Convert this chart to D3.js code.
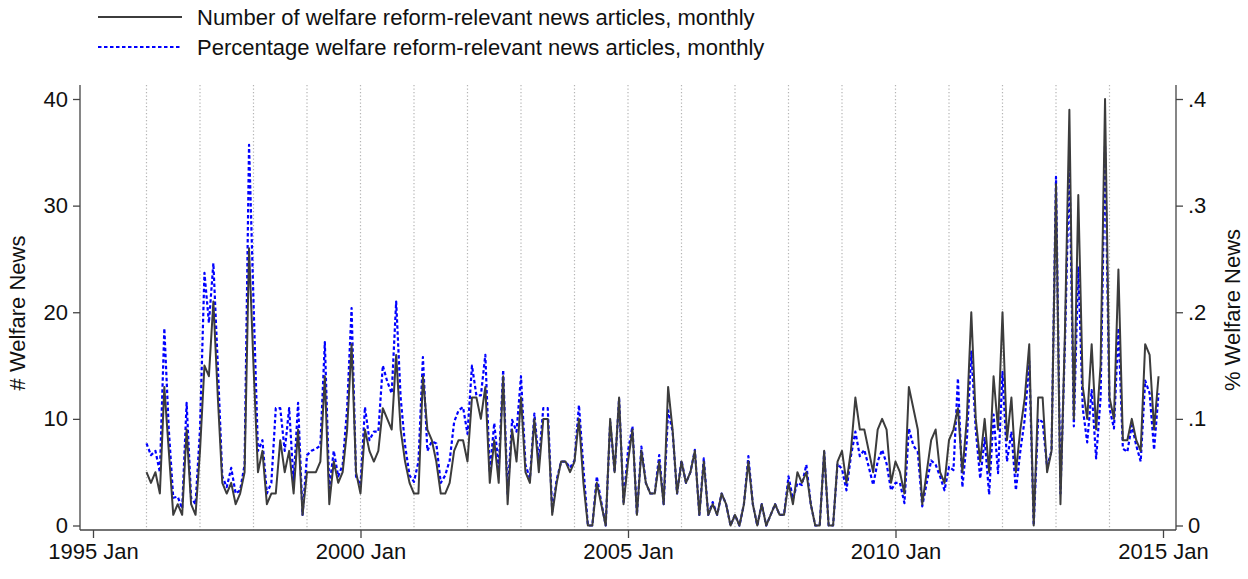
<!DOCTYPE html>
<html>
<head>
<meta charset="utf-8">
<script src="https://cdn.jsdelivr.net/npm/d3@7"></script>
<style>
  html, body { margin: 0; padding: 0; background: #fff; }
  svg { display: block; }
  text { font-family: "Liberation Sans", Arial, Helvetica, sans-serif; fill: #111; }
</style>
</head>
<body>
<svg id="chart" width="1248" height="579"></svg>
<script>
// Monthly series, January 1996 through December 2014
const startYear = 1996;

// Number of welfare reform-relevant news articles per month
const articleCounts = [
  5, 4, 5, 3, 13, 7, 1, 2, 1, 9, 2, 1,          // 1996
  7, 15, 14, 21, 12, 4, 3, 4, 2, 3, 5, 26,      // 1997
  15, 5, 7, 2, 3, 3, 8, 5, 7, 3, 9, 1,          // 1998
  5, 5, 5, 6, 14, 2, 6, 4, 5, 9, 17, 5,         // 1999
  3, 9, 7, 6, 7, 11, 10, 9, 16, 9, 6, 4,        // 2000
  3, 3, 14, 9, 8, 6, 3, 3, 4, 7, 8, 8,          // 2001
  6, 12, 12, 10, 13, 4, 8, 4, 14, 2, 9, 6,      // 2002
  12, 5, 4, 10, 5, 10, 10, 1, 4, 6, 6, 5,       // 2003
  6, 10, 4, 0, 0, 4, 2, 0, 10, 5, 12, 2,        // 2004
  6, 9, 1, 7, 4, 3, 3, 6, 2, 13, 9, 3,          // 2005
  6, 4, 5, 7, 1, 6, 1, 2, 1, 3, 2, 0,           // 2006
  1, 0, 2, 6, 2, 0, 2, 0, 1, 2, 1, 1,           // 2007
  4, 2, 5, 4, 5, 2, 0, 0, 7, 0, 0, 6,           // 2008
  7, 4, 7, 12, 9, 9, 7, 5, 9, 10, 9, 4,         // 2009
  6, 5, 3, 13, 11, 9, 2, 5, 8, 9, 5, 4,         // 2010
  8, 9, 11, 5, 10, 20, 10, 6, 10, 5, 14, 9,     // 2011
  20, 8, 12, 5, 9, 12, 17, 0, 12, 12, 5, 7,     // 2012
  32, 2, 18, 39, 10, 31, 13, 10, 17, 9, 15, 40, // 2013
  12, 10, 24, 8, 8, 10, 8, 7, 17, 16, 9, 14     // 2014
];

// Share of all news articles that are welfare reform-relevant
const articleShares = [
  .077, .066, .07, .05, .185, .09, .026, .027, .016, .115, .026, .02,
  .09, .237, .19, .246, .15, .046, .036, .054, .03, .033, .057, .357,
  .21, .07, .08, .03, .04, .11, .11, .07, .11, .04, .115, .01,
  .066, .07, .072, .075, .172, .035, .07, .046, .057, .11, .204, .046,
  .038, .111, .08, .088, .088, .15, .135, .124, .21, .12, .075, .047,
  .041, .06, .158, .07, .079, .077, .04, .047, .061, .097, .108, .111,
  .086, .15, .122, .122, .16, .05, .096, .054, .146, .029, .099, .088,
  .14, .057, .044, .105, .06, .11, .11, .013, .043, .06, .06, .054,
  .061, .113, .054, 0, 0, .046, .022, 0, .097, .05, .119, .022,
  .07, .093, .01, .074, .04, .03, .03, .066, .02, .108, .088, .03,
  .061, .04, .05, .071, .01, .063, .01, .022, .01, .03, .02, 0,
  .01, 0, .02, .065, .02, 0, .02, 0, .01, .02, .01, .01,
  .046, .025, .04, .038, .057, .02, 0, 0, .069, 0, 0, .058,
  .053, .033, .065, .088, .065, .071, .055, .038, .06, .071, .058, .033,
  .04, .04, .021, .091, .075, .069, .018, .04, .061, .057, .046, .033,
  .055, .052, .138, .036, .08, .163, .09, .044, .082, .029, .104, .049,
  .144, .06, .088, .033, .07, .1, .154, 0, .1, .097, .055, .07,
  .327, .03, .17, .343, .093, .243, .11, .078, .127, .063, .12, .357,
  .11, .091, .185, .072, .069, .094, .075, .06, .136, .124, .071, .124
];

const xTickYears = [1995, 2000, 2005, 2010, 2015];
const xTickLabels = ["1995 Jan", "2000 Jan", "2005 Jan", "2010 Jan", "2015 Jan"];
const gridYears = d3.range(1996, 2015);
const leftTicks = [0, 10, 20, 30, 40];
const rightTicks = [0, .1, .2, .3, .4];
const rightTickLabels = ["0", ".1", ".2", ".3", ".4"];
const legendLabels = [
  "Number of welfare reform-relevant news articles, monthly",
  "Percentage welfare reform-relevant news articles, monthly"
];

// months counted from January 1995
const monthIndex = (year, m) => (year - 1995) * 12 + m;

const svg = d3.select("#chart");
const plot = { left: 80, right: 1176, top: 85, bottom: 530 };

const x = d3.scaleLinear().domain([0, 240]).range([93, 1163]);
const yLeft = d3.scaleLinear().domain([0, 40]).range([525.5, 99]);
const yRight = d3.scaleLinear().domain([0, .4]).range([525.5, 99]);

const axisColor = "#444";
const fontSize = 22;

// yearly gridlines
svg.append("g")
  .selectAll("line")
  .data(gridYears)
  .join("line")
  .attr("x1", d => x(monthIndex(d, 0)))
  .attr("x2", d => x(monthIndex(d, 0)))
  .attr("y1", plot.top)
  .attr("y2", plot.bottom)
  .attr("stroke", "#b4b4b4")
  .attr("stroke-width", 1.2)
  .attr("stroke-dasharray", "1.3,2.2");

// left axis
const gLeft = svg.append("g").attr("transform", `translate(${plot.left},0)`)
  .call(d3.axisLeft(yLeft).tickValues(leftTicks).tickSize(7).tickPadding(5).tickFormat(d3.format("d")));
// right axis
const gRight = svg.append("g").attr("transform", `translate(${plot.right},0)`)
  .call(d3.axisRight(yRight).tickValues(rightTicks).tickSize(7).tickPadding(5)
    .tickFormat((d, i) => rightTickLabels[i]));
// bottom axis
const gBottom = svg.append("g").attr("transform", `translate(0,${plot.bottom})`)
  .call(d3.axisBottom(x).tickValues(xTickYears.map(yv => monthIndex(yv, 0))).tickSize(8).tickPadding(5)
    .tickFormat((d, i) => xTickLabels[i]));

[gLeft, gRight, gBottom].forEach(g => {
  g.select(".domain").remove();
  g.selectAll(".tick line").attr("stroke", axisColor).attr("stroke-width", 1.3);
  g.selectAll(".tick text").attr("font-size", fontSize).attr("fill", "#111")
    .attr("font-family", '"Liberation Sans", Arial, sans-serif');
});

// axis lines
svg.append("line").attr("x1", plot.left).attr("x2", plot.left).attr("y1", plot.top).attr("y2", plot.bottom)
  .attr("stroke", axisColor).attr("stroke-width", 1.3);
svg.append("line").attr("x1", plot.right).attr("x2", plot.right).attr("y1", plot.top).attr("y2", plot.bottom)
  .attr("stroke", axisColor).attr("stroke-width", 1.3);
svg.append("line").attr("x1", plot.left).attr("x2", plot.right).attr("y1", plot.bottom).attr("y2", plot.bottom)
  .attr("stroke", axisColor).attr("stroke-width", 1.3);

// axis titles
svg.append("text")
  .attr("transform", `translate(25,313) rotate(-90)`)
  .attr("text-anchor", "middle")
  .attr("font-size", fontSize)
  .text("# Welfare News");
svg.append("text")
  .attr("transform", `translate(1240,310) rotate(-90)`)
  .attr("text-anchor", "middle")
  .attr("font-size", fontSize)
  .text("% Welfare News");

// series lines
const countLine = d3.line()
  .x((d, i) => x(monthIndex(startYear, i)))
  .y(d => yLeft(d));
const shareLine = d3.line()
  .x((d, i) => x(monthIndex(startYear, i)))
  .y(d => yRight(d));

svg.append("path")
  .datum(articleShares)
  .attr("d", shareLine)
  .attr("fill", "none")
  .attr("stroke", "#0000ff")
  .attr("stroke-width", 2.2)
  .attr("stroke-dasharray", "3.5,2.5")
  .attr("stroke-linejoin", "round");

svg.append("path")
  .datum(articleCounts)
  .attr("d", countLine)
  .attr("fill", "none")
  .attr("stroke", "#3c3c3c")
  .attr("stroke-width", 2)
  .attr("stroke-linejoin", "round");

// legend
const legend = svg.append("g");
const legendRows = [
  { y: 17, stroke: "#3c3c3c", dash: null },
  { y: 47, stroke: "#0000ff", dash: "3.5,2.5" }
];
legendRows.forEach((r, i) => {
  legend.append("line")
    .attr("x1", 98).attr("x2", 182).attr("y1", r.y).attr("y2", r.y)
    .attr("stroke", r.stroke).attr("stroke-width", 1.8)
    .attr("stroke-dasharray", r.dash);
  legend.append("text")
    .attr("x", 197).attr("y", r.y)
    .attr("dy", "0.35em")
    .attr("font-size", fontSize)
    .text(legendLabels[i]);
});
</script>
</body>
</html>
